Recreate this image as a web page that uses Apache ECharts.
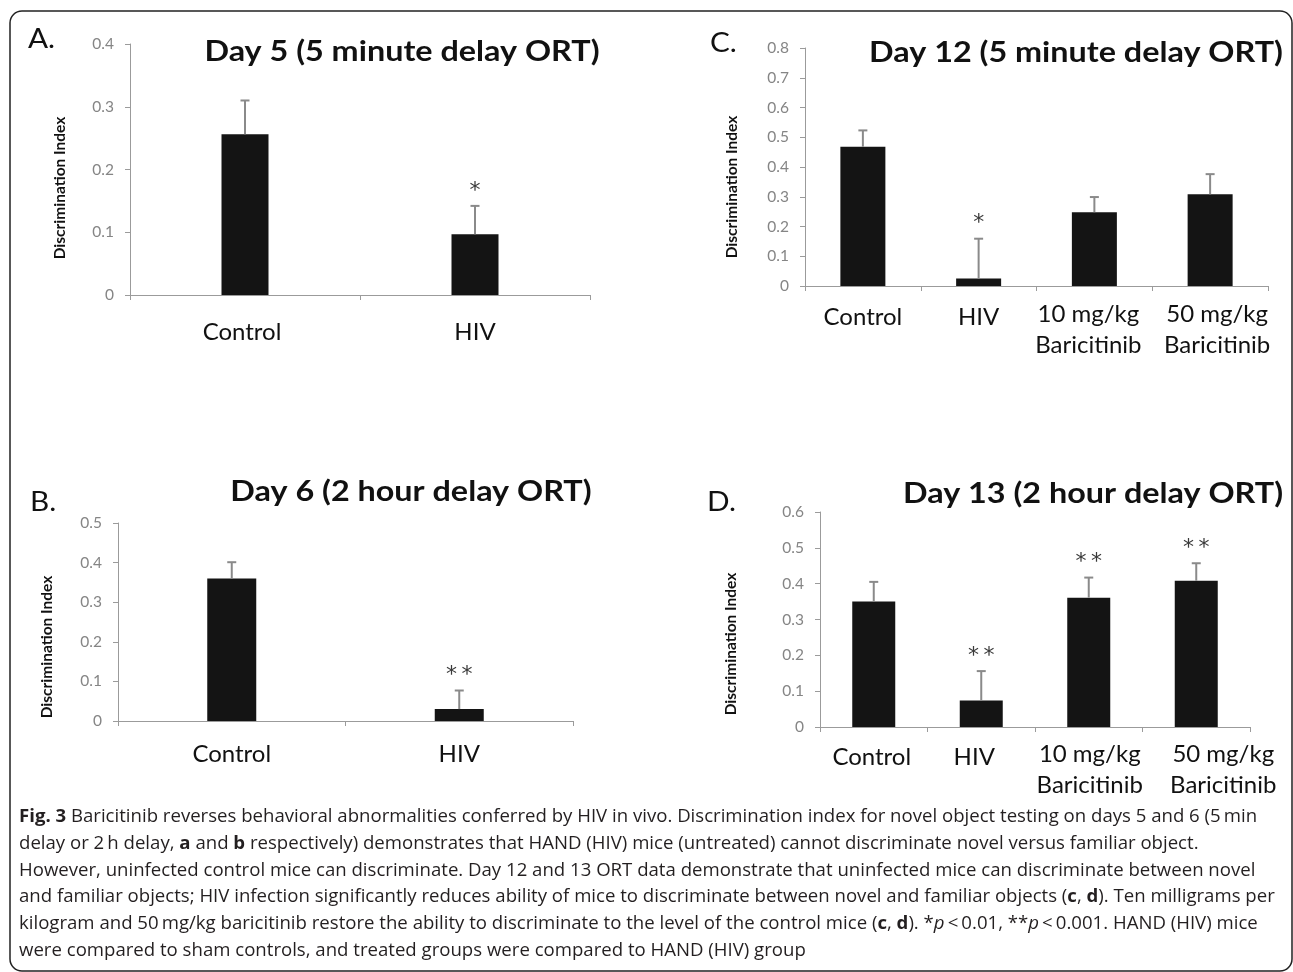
<!DOCTYPE html>
<html>
<head>
<meta charset="utf-8">
<script src="https://cdn.jsdelivr.net/npm/echarts@6/dist/echarts.min.js"></script>
<style>
html,body{margin:0;padding:0;background:#fff;}
#main{width:1293px;height:972px;}
</style>
</head>
<body>
<div id="main"></div>
<script>
// ---------- data ----------
const catsAB = ['Control', 'HIV'];
const catsCD = ['Control', 'HIV', '10 mg/kg\nBaricitinib', '50 mg/kg\nBaricitinib'];

const valA = [0.256, 0.097];
const errA = [0.054, 0.045];
const sigA = ['', '*'];

const valB = [0.360, 0.030];
const errB = [0.041, 0.047];
const sigB = ['', '**'];

const valC = [0.468, 0.025, 0.248, 0.308];
const errC = [0.055, 0.134, 0.051, 0.068];
const sigC = ['', '*', '', ''];

const valD = [0.350, 0.074, 0.361, 0.408];
const errD = [0.055, 0.082, 0.056, 0.049];
const sigD = ['', '**', '**', '**'];

const yMaxA = 0.4, yMaxB = 0.5, yMaxC = 0.8, yMaxD = 0.6;

const titles = ['Day 5 (5 minute delay ORT)', 'Day 6 (2 hour delay ORT)', 'Day 12 (5 minute delay ORT)', 'Day 13 (2 hour delay ORT)'];
const panelLetters = ['A.', 'B.', 'C.', 'D.'];
const yName = 'Discrimination Index';

const captionLines = [
  '{b|Fig. 3} Baricitinib reverses behavioral abnormalities conferred by HIV in vivo. Discrimination index for novel object testing on days 5 and 6 (5\u2009min',
  'delay or 2\u2009h delay, {b|a} and {b|b} respectively) demonstrates that HAND (HIV) mice (untreated) cannot discriminate novel versus familiar object.',
  'However, uninfected control mice can discriminate. Day 12 and 13 ORT data demonstrate that uninfected mice can discriminate between novel',
  'and familiar objects; HIV infection significantly reduces ability of mice to discriminate between novel and familiar objects ({b|c}, {b|d}). Ten milligrams per',
  'kilogram and 50\u2009mg/kg baricitinib restore the ability to discriminate to the level of the control mice ({b|c}, {b|d}). *{i|p}\u2009<\u20090.01, **{i|p}\u2009<\u20090.001. HAND (HIV) mice',
  'were compared to sham controls, and treated groups were compared to HAND (HIV) group'
];

// ---------- styling / layout ----------
const FONT = 'Lato, "Open Sans", sans-serif';
const CAP_FONT = '"Open Sans", "Noto Sans", sans-serif';
const AXIS_GREY = '#9b9b9b';
const BAR_COLOR = '#141414';
const ERR_COLOR = '#8a8a8a';

const grids = [
  {left: 130, top: 44, width: 460, height: 251},   // A
  {left: 118, top: 523, width: 455, height: 198},  // B
  {left: 805, top: 48, width: 463, height: 238},   // C
  {left: 820, top: 512, width: 430, height: 215}   // D
];
const barWidths = [47, 49, 45, 43];
const labelMargins = [22, 18, 13, 12];
// horizontal nudges of the category labels (px), per panel
const labelShifts = [[-3, 0], [0, 0], [0, 0, -6, 7], [-2, -7, 1, 27]];
const yMaxes = [yMaxA, yMaxB, yMaxC, yMaxD];
const cats = [catsAB, catsAB, catsCD, catsCD];
const vals = [valA, valB, valC, valD];
const errs = [errA, errB, errC, errD];
const sigs = [sigA, sigB, sigC, sigD];

const titlePos = [[402, 52], [411, 492], [1076, 53], [1093, 494]];
const letterPos = [[28, 39], [30, 502], [710, 43], [707, 502]];
const yNamePos = [[60, 188], [47, 647], [732, 187], [731, 644]];
const STRETCH = 1.155;

function errorSeries(k) {
  const s = sigs[k];
  return {
    type: 'custom',
    xAxisIndex: k, yAxisIndex: k, z: 5, silent: true,
    data: vals[k].map((v, i) => [i, v, errs[k][i]]),
    renderItem: function (params, api) {
      const i = api.value(0), v = api.value(1), e = api.value(2);
      const p0 = api.coord([i, v]);
      const p1 = api.coord([i, v + e]);
      const children = [
        {type: 'line', shape: {x1: p0[0], y1: p0[1], x2: p1[0], y2: p1[1]}, style: {stroke: ERR_COLOR, lineWidth: 2}},
        {type: 'line', shape: {x1: p1[0] - 4.5, y1: p1[1], x2: p1[0] + 4.5, y2: p1[1]}, style: {stroke: ERR_COLOR, lineWidth: 2}}
      ];
      const sg = s[params.dataIndex];
      if (sg) {
        children.push({
          type: 'text', x: p1[0], y: p1[1] - 4,
          style: {text: sg.split('').join('\u2009'), fontSize: 22, fontFamily: '"DejaVu Sans", sans-serif', fill: '#3a3a3a',
                  align: 'center', verticalAlign: 'bottom', textAlign: 'center', textVerticalAlign: 'bottom'}
        });
      }
      return {type: 'group', children: children};
    }
  };
}

function labelRich(k) {
  const rich = {};
  cats[k].forEach((c, idx) => {
    const sh = labelShifts[k][idx];
    const single = c.indexOf('\n') < 0;
    rich['c' + idx] = {
      fontSize: 24, fontFamily: FONT, color: '#111', lineHeight: 31,
      padding: [(single && k >= 2) ? 6 : 0, sh < 0 ? -2 * sh : 0, 0, sh > 0 ? 2 * sh : 0]
    };
  });
  return rich;
}

const option = {
  animation: false,
  backgroundColor: '#ffffff',
  grid: grids.map(g => Object.assign({containLabel: false}, g)),
  xAxis: cats.map((c, k) => ({
    type: 'category', gridIndex: k, data: c,
    axisLine: {show: true, lineStyle: {color: AXIS_GREY, width: 1}},
    axisTick: {show: true, length: 5, lineStyle: {color: AXIS_GREY}},
    axisLabel: {
      color: '#111', fontSize: 24, fontFamily: FONT, lineHeight: 31, margin: labelMargins[k], interval: 0,
      formatter: (v, idx) => v.split('\n').map(l => '{c' + idx + '|' + l + '}').join('\n'),
      rich: labelRich(k)
    },
    splitLine: {show: false}
  })),
  yAxis: yMaxes.map((m, k) => ({
    type: 'value', gridIndex: k, min: 0, max: m, interval: 0.1,
    axisLine: {show: true, lineStyle: {color: AXIS_GREY, width: 1}},
    axisTick: {show: true, length: 5, lineStyle: {color: AXIS_GREY}},
    axisLabel: {color: '#858585', fontSize: 15.5, fontFamily: FONT, margin: 16,
                formatter: v => v === 0 ? '0' : v.toFixed(1)},
    splitLine: {show: false}
  })),
  series: [].concat(
    vals.map((v, k) => ({
      type: 'bar', xAxisIndex: k, yAxisIndex: k, data: v, barWidth: barWidths[k],
      itemStyle: {color: BAR_COLOR}, silent: true
    })),
    vals.map((v, k) => errorSeries(k))
  ),
  graphic: []
};

// frame
option.graphic.push({
  type: 'rect', z: 0, silent: true,
  shape: {x: 10, y: 11, width: 1282, height: 960, r: 12},
  style: {fill: 'none', stroke: '#222', lineWidth: 1.5}
});

for (let k = 0; k < 4; k++) {
  option.graphic.push({
    type: 'text', x: titlePos[k][0], y: titlePos[k][1], scaleX: STRETCH, silent: true,
    style: {text: titles[k], fontSize: 28, fontWeight: 'bold', fontFamily: FONT, fill: '#111',
            align: 'center', verticalAlign: 'middle', textAlign: 'center', textVerticalAlign: 'middle'}
  });
  option.graphic.push({
    type: 'text', x: letterPos[k][0], y: letterPos[k][1], scaleX: 1.1, silent: true,
    style: {text: panelLetters[k], fontSize: 27, fontFamily: FONT, fill: '#111',
            align: 'left', verticalAlign: 'middle', textAlign: 'left', textVerticalAlign: 'middle'}
  });
  option.graphic.push({
    type: 'text', x: yNamePos[k][0], y: yNamePos[k][1], rotation: Math.PI / 2, silent: true,
    style: {text: yName, fontSize: 15.5, fontWeight: 'bold', fontFamily: FONT, fill: '#111',
            align: 'center', verticalAlign: 'middle', textAlign: 'center', textVerticalAlign: 'middle'}
  });
}

// caption
const capSize = 18.6;
const capY0 = 817, capDY = 26.7;
captionLines.forEach((ln, i) => {
  option.graphic.push({
    type: 'text', x: 19, y: capY0 + i * capDY, silent: true,
    style: {
      text: ln, fontSize: capSize, fontFamily: CAP_FONT, fill: '#231f20',
      align: 'left', verticalAlign: 'middle', textAlign: 'left', textVerticalAlign: 'middle',
      rich: {
        b: {fontSize: capSize, fontFamily: CAP_FONT, fontWeight: 'bold', fill: '#231f20'},
        i: {fontSize: capSize, fontFamily: CAP_FONT, fontStyle: 'italic', fill: '#231f20'}
      }
    }
  });
});

const chart = echarts.init(document.getElementById('main'), null, {renderer: 'canvas', width: 1293, height: 972});
chart.setOption(option);
</script>
</body>
</html>
